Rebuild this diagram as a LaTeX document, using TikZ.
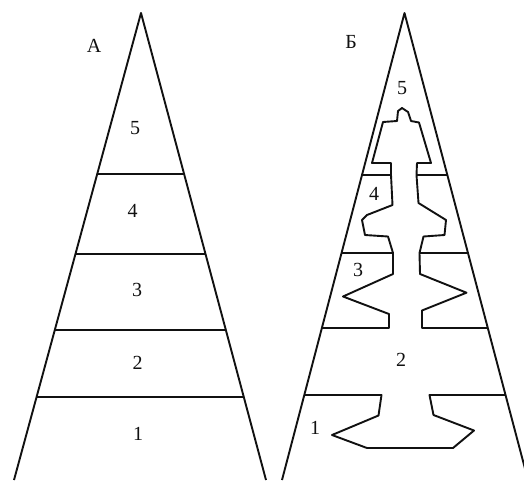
\documentclass[tikz,border=0pt]{standalone}
\usepackage{fontspec}
\setmainfont{Liberation Serif}
\usetikzlibrary{calc}
\definecolor{ink}{HTML}{111111}
\newcommand{\lvl}{\fontsize{20}{24}\selectfont}

\begin{document}
\begin{tikzpicture}[x=1pt,y=-1pt,font=\lvl,line width=1.9pt,line join=round]
\useasboundingbox (0,0) rectangle (524,480);
\clip (0,0) rectangle (524,480);
% A -- plain cone, five layers
\coordinate (Atop) at (141,13);
\coordinate (Aleft) at (14,480);
\coordinate (Aright) at (266,480);
\draw[ink] (Aleft) -- (Atop) -- (Aright);
\foreach \t in {0.345,0.516,0.679,0.822}
  \draw[ink] ($(Atop)!\t!(Aleft)$) -- ($(Atop)!\t!(Aright)$);
\node[text=ink] (Aname) at (94,46) {А};
\node[text=ink] (A5) at (135,128) {5};
\node[text=ink] (A4) at (132.5,211) {4};
\node[text=ink] (A3) at (137,289.5) {3};
\node[text=ink] (A2) at (137.5,362.5) {2};
\node[text=ink] (A1) at (138,433.5) {1};
% Б -- cone with the tree cut out
\coordinate (Btop) at (404.5,13);
\coordinate (Bleft) at (282,480);
\coordinate (Bright) at (528,480);
\draw[ink] (Bleft) -- (Btop) -- (Bright);
\draw[ink] ($(Btop)!0.6745!(Bleft)$) -- (389,328) -- (389,314) -- (343,296.5) -- (393,274) -- (393,253)
  -- (388,236.5) -- (365,235) -- (362,220) -- (367,215) -- (392.5,205) -- (391,175) -- (391,163)
  -- (372,163) -- (383,122) -- (397,121) -- (398,111) -- (402,108) -- (408,112) -- (411,121)
  -- (419,122.5) -- (431,163) -- (417,163) -- (416.5,175) -- (418.5,203) -- (446,220) -- (444.5,235)
  -- (423.5,236.5) -- (419.5,253) -- (420,274) -- (466.5,292.7) -- (422,310.5) -- (422,328)
  -- ($(Btop)!0.6745!(Bright)$);
\draw[ink] ($(Btop)!0.3469!(Bleft)$) -- (391,175);
\draw[ink] (416.5,175) -- ($(Btop)!0.3469!(Bright)$);
\draw[ink] ($(Btop)!0.5139!(Bleft)$) -- (393,253);
\draw[ink] (419.5,253) -- ($(Btop)!0.5139!(Bright)$);
\draw[ink] ($(Btop)!0.818!(Bleft)$) -- (381.5,395) -- (378.5,415.5) -- (332,435) -- (367,448)
  -- (453,448) -- (474,430.5) -- (433.5,415) -- (429.5,395) -- ($(Btop)!0.818!(Bright)$);
\node[text=ink] (Bname) at (351,42) {Б};
\node[text=ink] (B5) at (402,88) {5};
\node[text=ink] (B4) at (374,194) {4};
\node[text=ink] (B3) at (358,270) {3};
\node[text=ink] (B2) at (401,360) {2};
\node[text=ink] (B1) at (315,428) {1};
\end{tikzpicture}
\end{document}
